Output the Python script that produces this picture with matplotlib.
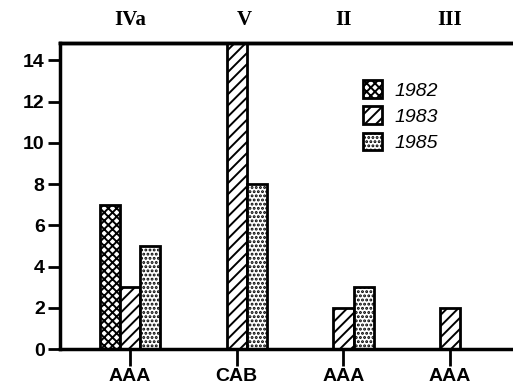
import matplotlib.pyplot as plt
import numpy as np

plt.rcParams['hatch.linewidth'] = 1.4

groups = ["AAA", "CAB", "AAA", "AAA"]
top_labels = ["IVa", "V", "II", "III"]
years = ["1982", "1983", "1985"]
v1982 = [7, 0, 0, 0]
v1983 = [3, 15, 2, 2]
v1985 = [5, 8, 3, 0]

series = [v1982, v1983, v1985]
hatches = ["xxxx", "///", "...."]

x = np.arange(len(groups))
w = 0.19

fig = plt.figure(figsize=(5.13, 3.9), dpi=100)
ax = fig.add_axes([0.117, 0.105, 0.883, 0.785])

for i, (vals, h, yr) in enumerate(zip(series, hatches, years)):
    vals = np.array(vals, dtype=float)
    mask = vals > 0
    ax.bar(x[mask] + (i - 1) * w, vals[mask], width=w, color="white",
           edgecolor="black", linewidth=2, hatch=h, label=yr)

ax.set_xlim(-0.656, 3.59)
ax.set_ylim(0, 14.85)
ax.set_yticks(range(0, 15, 2))
ax.set_xticks(x)
ax.set_xticklabels(groups, family="Liberation Sans", fontweight="bold", fontsize=14)
for lab in ax.get_yticklabels():
    lab.set_family("Liberation Sans")
    lab.set_fontweight("bold")
    lab.set_fontsize(14)
ax.tick_params(axis="y", length=9, width=2, pad=2)
ax.tick_params(axis="x", length=12, width=2, pad=2)

ax.spines["right"].set_visible(False)
for s in ["left", "bottom", "top"]:
    ax.spines[s].set_linewidth(2.5)

top = ax.twiny()
top.set_xlim(ax.get_xlim())
top.set_xticks(x + np.array([0, 0.07, 0, 0]))
top.set_xticklabels(top_labels, family="Liberation Serif", fontweight="bold", fontsize=15)
top.tick_params(axis="x", length=0, pad=9)
top.spines["right"].set_visible(False)
top.spines["top"].set_linewidth(2.5)

leg = ax.legend(loc="upper left", bbox_to_anchor=(0.63, 0.935), frameon=False,
                handlelength=1.0, handleheight=1.0, labelspacing=0.35,
                handletextpad=0.6,
                prop={"family": "Liberation Sans", "style": "italic", "size": 14})

fig.savefig("out.png", dpi=100)
